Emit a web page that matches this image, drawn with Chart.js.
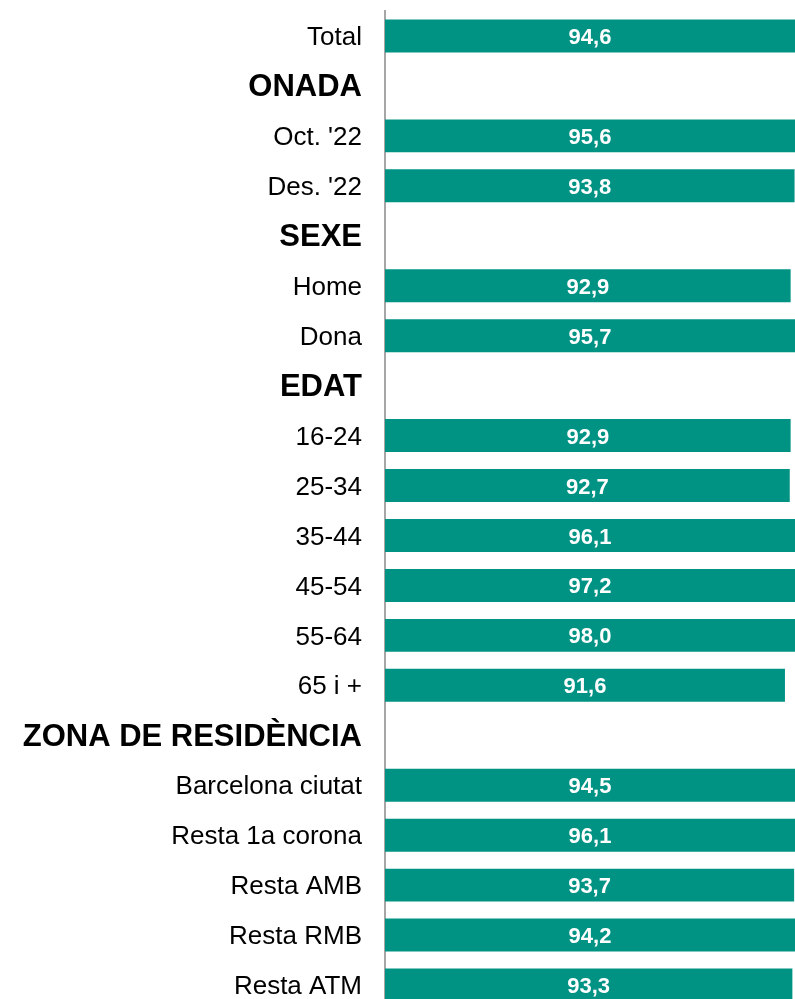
<!DOCTYPE html>
<html>
<head>
<meta charset="utf-8">
<script src="https://cdn.jsdelivr.net/npm/chart.js@4.4.1/dist/chart.umd.min.js"></script>
<style>
  html, body { margin: 0; padding: 0; background: #ffffff; overflow: hidden; }
  #wrap { width: 795px; height: 1010px; }
</style>
</head>
<body>
<div id="wrap"><canvas id="grafica" width="795" height="1010"></canvas></div>
<script>
// Categories (headers have no bar)
const categorias = [
  'Total', 'ONADA', "Oct. '22", "Des. '22", 'SEXE', 'Home', 'Dona', 'EDAT',
  '16-24', '25-34', '35-44', '45-54', '55-64', '65 i +',
  'ZONA DE RESIDÈNCIA', 'Barcelona ciutat', 'Resta 1a corona', 'Resta AMB', 'Resta RMB', 'Resta ATM'
];
const capcaleres = ['ONADA', 'SEXE', 'EDAT', 'ZONA DE RESIDÈNCIA'];
const valors = [
  94.6, null, 95.6, 93.8, null, 92.9, 95.7, null,
  92.9, 92.7, 96.1, 97.2, 98.0, 91.6,
  null, 94.5, 96.1, 93.7, 94.2, 93.3
];
const ejeMin = 0;
const ejeMax = 93.9;

const COLOR_BARRA = '#009384';
const FONT = '"Liberation Sans", Arial, sans-serif';

// draws the value label at the centre of the visible part of each bar
const etiquetasValor = {
  id: 'etiquetasValor',
  afterDatasetsDraw(chart) {
    const { ctx, chartArea } = chart;
    const meta = chart.getDatasetMeta(0);
    ctx.save();
    ctx.fillStyle = '#ffffff';
    ctx.font = 'bold 22px ' + FONT;
    ctx.textAlign = 'center';
    ctx.textBaseline = 'middle';
    meta.data.forEach((bar, i) => {
      const v = valors[i];
      if (v === null) return;
      const fin = Math.min(bar.x, chartArea.right);
      const cx = (bar.base + fin) / 2;
      ctx.fillText(v.toFixed(1).replace('.', ','), cx, bar.y + 2);
    });
    ctx.restore();
  }
};

new Chart(document.getElementById('grafica'), {
  type: 'bar',
  data: {
    labels: categorias,
    datasets: [{
      data: valors,
      backgroundColor: COLOR_BARRA,
      borderWidth: 0,
      barPercentage: 0.66,
      categoryPercentage: 1.0,
    }],
  },
  options: {
    indexAxis: 'y',
    responsive: false,
    animation: false,
    devicePixelRatio: 1,
    layout: { padding: { top: 11, left: 0, right: 0, bottom: 0 } },
    plugins: {
      legend: { display: false },
      tooltip: { enabled: false },
    },
    scales: {
      x: {
        display: false,
        min: ejeMin,
        max: ejeMax,
      },
      y: {
        afterFit: (scale) => {
          scale.width = 385;
          scale.paddingTop = 0;
          scale.paddingBottom = 0;
        },
        grid: { display: false, drawTicks: false },
        border: { display: true, color: '#a6a6a6', width: 2 },
        ticks: {
          autoSkip: false,
          padding: 23,
          labelOffset: 2,
          color: '#000000',
          font: (ctx) => {
            const esCap = capcaleres.includes(categorias[ctx.index]);
            return esCap
              ? { family: FONT, size: 31, weight: 'bold' }
              : { family: FONT, size: 26, weight: 'normal' };
          },
        },
      },
    },
  },
  plugins: [etiquetasValor],
});
</script>
</body>
</html>
